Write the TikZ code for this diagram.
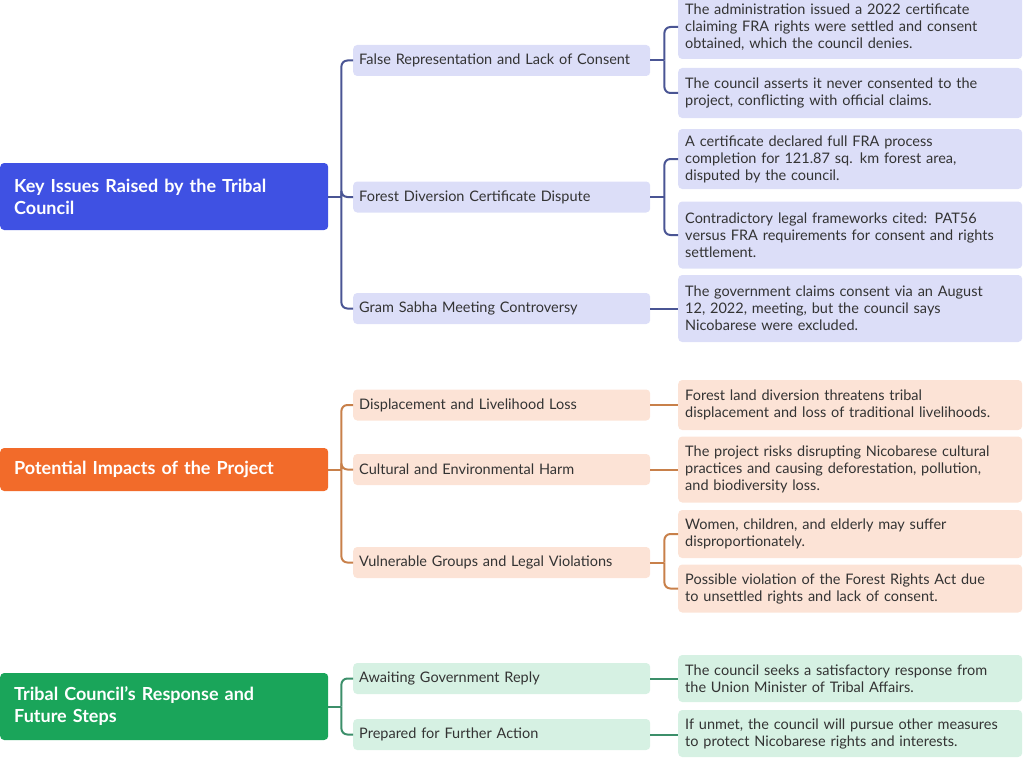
\documentclass[tikz,border=0pt]{standalone}
\usepackage{fontspec}
\setmainfont{Lato}
\usetikzlibrary{calc}
\definecolor{bR}{HTML}{3F51E3}\definecolor{bL}{HTML}{DCDEF8}\definecolor{bC}{HTML}{4A5594}
\definecolor{oR}{HTML}{F26B2A}\definecolor{oL}{HTML}{FCE3D6}\definecolor{oC}{HTML}{C8804A}
\definecolor{gR}{HTML}{1AA55A}\definecolor{gL}{HTML}{D6F1E3}\definecolor{gC}{HTML}{3C8F6A}
\definecolor{tx}{HTML}{333333}
\tikzset{x=1pt,y=-1pt,
rootbox/.style={rounded corners=4pt,text=white,font=\fontsize{18}{22}\selectfont\bfseries,align=left,text width=300pt,minimum width=325pt,inner xsep=14pt,anchor=west},
midbox/.style={rounded corners=4pt,text=tx,font=\fontsize{14.5}{17}\selectfont,minimum width=297pt,minimum height=31pt,text width=285pt,align=left,inner xsep=6pt,anchor=west},
leafbox/.style={rounded corners=4pt,text=tx,font=\fontsize{14.5}{17}\selectfont,minimum width=340pt,text width=330pt,align=left,inner xsep=7pt,anchor=west},
conn/.style={line width=2pt,rounded corners=6pt}}
\begin{document}
\begin{tikzpicture}
\useasboundingbox (0,0) rectangle (1024,765);
% roots
\node[rootbox,fill=bR,minimum height=67pt] (r1) at (0,196.5) {Key Issues Raised by the Tribal\\Council};
\node[rootbox,fill=oR,minimum height=43pt] (r2) at (0,469.5) {Potential Impacts of the Project};
\node[rootbox,fill=gR,minimum height=67pt] (r3) at (0,706.5) {Tribal Council’s Response and\\Future Steps};
% mids
\node[midbox,fill=bL] (m1) at (353,60.5) {False Representation and Lack of Consent};
\node[midbox,fill=bL] (m2) at (353,197) {Forest Diversion Certificate Dispute};
\node[midbox,fill=bL] (m3) at (353,308.5) {Gram Sabha Meeting Controversy};
\node[midbox,fill=oL] (m4) at (353,405) {Displacement and Livelihood Loss};
\node[midbox,fill=oL] (m5) at (353,469.5) {Cultural and Environmental Harm};
\node[midbox,fill=oL] (m6) at (353,562.5) {Vulnerable Groups and Legal Violations};
\node[midbox,fill=gL] (m7) at (353,678.5) {Awaiting Government Reply};
\node[midbox,fill=gL] (m8) at (353,734.5) {Prepared for Further Action};
% leaves
\node[leafbox,fill=bL,minimum height=64pt] (l1) at (678,27) {The administration issued a 2022 certificate\\claiming FRA rights were settled and consent\\obtained, which the council denies.};
\node[leafbox,fill=bL,minimum height=50pt] (l2) at (678,93) {The council asserts it never consented to the\\project, conflicting with official claims.};
\node[leafbox,fill=bL,minimum height=60pt] (l3) at (678,159) {A certificate declared full FRA process\\completion for 121.87 sq. km forest area,\\disputed by the council.};
\node[leafbox,fill=bL,minimum height=67pt] (l4) at (678,235) {Contradictory legal frameworks cited: PAT56\\versus FRA requirements for consent and rights\\settlement.};
\node[leafbox,fill=bL,minimum height=67pt] (l5) at (678,308.5) {The government claims consent via an August\\12, 2022, meeting, but the council says\\Nicobarese were excluded.};
\node[leafbox,fill=oL,minimum height=50pt] (l6) at (678,405) {Forest land diversion threatens tribal\\displacement and loss of traditional livelihoods.};
\node[leafbox,fill=oL,minimum height=66pt] (l7) at (678,469.5) {The project risks disrupting Nicobarese cultural\\practices and causing deforestation, pollution,\\and biodiversity loss.};
\node[leafbox,fill=oL,minimum height=48pt] (l8) at (678,534) {Women, children, and elderly may suffer\\disproportionately.};
\node[leafbox,fill=oL,minimum height=48pt] (l9) at (678,588.5) {Possible violation of the Forest Rights Act due\\to unsettled rights and lack of consent.};
\node[leafbox,fill=gL,minimum height=47pt] (l10) at (678,678.5) {The council seeks a satisfactory response from\\the Union Minister of Tribal Affairs.};
\node[leafbox,fill=gL,minimum height=47pt] (l11) at (678,733.5) {If unmet, the council will pursue other measures\\to protect Nicobarese rights and interests.};
% connectors root->mid
\coordinate (j1) at ($(r1.east)+(13,0)$);
\coordinate (j2) at ($(r2.east)+(13,0)$);
\coordinate (j3) at ($(r3.east)+(13,0)$);
\draw[conn,bC] (r1.east) -- (j1);
\foreach \m in {m1,m2,m3} \draw[conn,bC] (j1) |- (\m.west);
\draw[conn,oC] (r2.east) -- (j2);
\foreach \m in {m4,m5,m6} \draw[conn,oC] (j2) |- (\m.west);
\draw[conn,gC] (r3.east) -- (j3);
\foreach \m in {m7,m8} \draw[conn,gC] (j3) |- (\m.west);
% mid->leaf
\coordinate (k1) at ($(m1.east)+(14,0)$);
\coordinate (k2) at ($(m2.east)+(14,0)$);
\coordinate (k6) at ($(m6.east)+(14,0)$);
\draw[conn,bC] (m1.east) -- (k1);
\foreach \l in {l1,l2} \draw[conn,bC] (k1) |- (\l.west);
\draw[conn,bC] (m2.east) -- (k2);
\foreach \l in {l3,l4} \draw[conn,bC] (k2) |- (\l.west);
\draw[conn,bC] (m3.east) -- (m3.east -| l5.west);
\draw[conn,oC] (m4.east) -- (m4.east -| l6.west);
\draw[conn,oC] (m5.east) -- (m5.east -| l7.west);
\draw[conn,oC] (m6.east) -- (k6);
\foreach \l in {l8,l9} \draw[conn,oC] (k6) |- (\l.west);
\draw[conn,gC] (m7.east) -- (m7.east -| l10.west);
\draw[conn,gC] (m8.east) -- (m8.east -| l11.west);
\end{tikzpicture}
\end{document}
